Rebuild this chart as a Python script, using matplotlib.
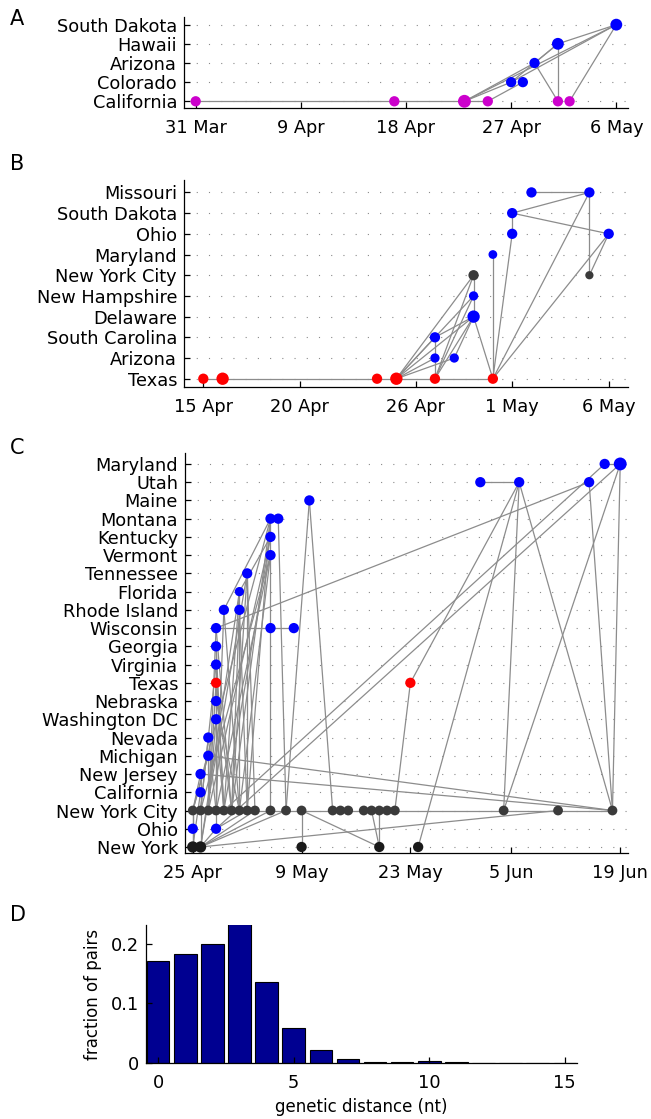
import matplotlib
matplotlib.use('Agg')
import matplotlib.pyplot as plt
import matplotlib.dates as mdates
from datetime import date

plt.rcParams['font.family'] = ['DejaVu Sans']
plt.rcParams['font.size'] = 12.8

W, H = 651, 1119
YEAR = 2009

# ---------------- panel A ----------------
a_locs = ["California", "Colorado", "Arizona", "Hawaii", "South Dakota"]
a_nodes = [("California", "03-31", 1), ("California", "04-17", 1), ("California", "04-23", 1.25),
           ("California", "04-25", 1), ("California", "05-01", 1), ("California", "05-02", 1),
           ("Colorado", "04-27", 1), ("Colorado", "04-28", 1), ("Arizona", "04-29", 1),
           ("Hawaii", "05-01", 1.15), ("South Dakota", "05-06", 1.15)]
a_edges = [("California", "03-31", "California", "04-17"),
           ("California", "04-17", "California", "04-23"),
           ("California", "04-23", "California", "04-25"),
           ("California", "04-23", "Colorado", "04-27"),
           ("California", "04-23", "Arizona", "04-29"),
           ("California", "04-23", "South Dakota", "05-06"),
           ("California", "04-25", "Colorado", "04-28"),
           ("Colorado", "04-27", "South Dakota", "05-06"),
           ("Colorado", "04-27", "Hawaii", "05-01"),
           ("Arizona", "04-29", "Hawaii", "05-01"),
           ("Arizona", "04-29", "California", "05-01"),
           ("Hawaii", "05-01", "California", "05-01"),
           ("Hawaii", "05-01", "South Dakota", "05-06"),
           ("California", "05-02", "South Dakota", "05-06")]
a_ticks = ["03-31", "04-09", "04-18", "04-27", "05-06"]
a_ticklabels = ["31 Mar", "9 Apr", "18 Apr", "27 Apr", "6 May"]

# ---------------- panel B ----------------
b_locs = ["Texas", "Arizona", "South Carolina", "Delaware", "New Hampshire",
          "New York City", "Maryland", "Ohio", "South Dakota", "Missouri"]
b_nodes = [("Texas", "04-15", 1), ("Texas", "04-16", 1.2), ("Texas", "04-24", 1),
           ("Texas", "04-25", 1.2), ("Texas", "04-27", 1), ("Texas", "04-30", 1),
           ("Arizona", "04-27", 0.9), ("Arizona", "04-28", 0.9), ("South Carolina", "04-27", 1),
           ("Delaware", "04-29", 1.2), ("New Hampshire", "04-29", 0.9),
           ("New York City", "04-29", 1), ("New York City", "05-05", 0.8),
           ("Maryland", "04-30", 0.85), ("Ohio", "05-01", 1), ("Ohio", "05-06", 1),
           ("South Dakota", "05-01", 1), ("Missouri", "05-02", 1), ("Missouri", "05-05", 1)]
b_edges = [("Texas", "04-15", "Texas", "04-16"), ("Texas", "04-16", "Texas", "04-24"),
           ("Texas", "04-24", "Texas", "04-25"), ("Texas", "04-25", "Texas", "04-27"),
           ("Texas", "04-27", "Texas", "04-30"),
           ("Texas", "04-25", "New York City", "04-29"), ("Texas", "04-25", "New Hampshire", "04-29"),
           ("Texas", "04-25", "Delaware", "04-29"), ("Texas", "04-25", "South Carolina", "04-27"),
           ("Texas", "04-25", "Arizona", "04-27"), ("Texas", "04-25", "Arizona", "04-28"),
           ("Texas", "04-27", "Arizona", "04-27"), ("Arizona", "04-27", "South Carolina", "04-27"),
           ("Texas", "04-27", "New York City", "04-29"), ("Texas", "04-27", "New Hampshire", "04-29"),
           ("Texas", "04-27", "Delaware", "04-29"), ("South Carolina", "04-27", "Delaware", "04-29"),
           ("New York City", "04-29", "New Hampshire", "04-29"),
           ("New Hampshire", "04-29", "Delaware", "04-29"), ("Arizona", "04-28", "Delaware", "04-29"),
           ("Delaware", "04-29", "Texas", "04-30"), ("Texas", "04-30", "Maryland", "04-30"),
           ("Texas", "04-30", "Ohio", "05-01"), ("Texas", "04-30", "Missouri", "05-05"),
           ("Texas", "04-30", "Ohio", "05-06"), ("Ohio", "05-01", "South Dakota", "05-01"),
           ("South Dakota", "05-01", "Missouri", "05-05"), ("South Dakota", "05-01", "Ohio", "05-06"),
           ("Missouri", "05-02", "Missouri", "05-05"), ("Missouri", "05-05", "New York City", "05-05"),
           ("New York City", "05-05", "Ohio", "05-06")]
b_ticks = ["04-15", "04-20", "04-26", "05-01", "05-06"]
b_ticklabels = ["15 Apr", "20 Apr", "26 Apr", "1 May", "6 May"]

# ---------------- panel C ----------------
c_locs = ["New York", "Ohio", "New York City", "California", "New Jersey", "Michigan",
          "Nevada", "Washington DC", "Nebraska", "Texas", "Virginia", "Georgia",
          "Wisconsin", "Rhode Island", "Florida", "Tennessee", "Vermont", "Kentucky",
          "Montana", "Maine", "Utah", "Maryland"]
nyc_dates = ["04-25", "04-26", "04-27", "04-28", "04-29", "04-30", "05-01", "05-02",
             "05-03", "05-05", "05-07", "05-09", "05-13", "05-14", "05-15", "05-17",
             "05-18", "05-19", "05-20", "05-21", "06-04", "06-11", "06-18"]
c_nodes = [("New York", "04-25", 1.1), ("New York", "04-26", 1.1), ("New York", "05-09", 1),
           ("New York", "05-19", 1), ("New York", "05-24", 1),
           ("Ohio", "04-25", 1), ("Ohio", "04-28", 1),
           ("California", "04-26", 1), ("New Jersey", "04-26", 1), ("Michigan", "04-27", 1),
           ("Nevada", "04-27", 1), ("Washington DC", "04-28", 1), ("Nebraska", "04-28", 1),
           ("Texas", "04-28", 1), ("Texas", "05-23", 1), ("Virginia", "04-28", 1),
           ("Georgia", "04-28", 1), ("Wisconsin", "04-28", 1), ("Wisconsin", "05-05", 1),
           ("Wisconsin", "05-08", 1), ("Rhode Island", "04-29", 1), ("Rhode Island", "05-01", 1),
           ("Florida", "05-01", 0.9), ("Tennessee", "05-02", 1), ("Vermont", "05-05", 1),
           ("Kentucky", "05-05", 1), ("Montana", "05-05", 1), ("Montana", "05-06", 1),
           ("Maine", "05-10", 1), ("Utah", "06-01", 1), ("Utah", "06-06", 1),
           ("Utah", "06-15", 1), ("Maryland", "06-17", 1), ("Maryland", "06-19", 1.25)]
c_nodes += [("New York City", dt, 0.95) for dt in nyc_dates]
c_edges = [("New York City", a, "New York City", b) for a, b in zip(nyc_dates[:-1], nyc_dates[1:])]
c_edges += [
    ("New York", "04-25", "Ohio", "04-25"), ("New York", "04-25", "New York", "04-26"),
    ("New York", "04-25", "California", "04-26"), ("New York", "04-26", "New Jersey", "04-26"),
    ("New York", "04-26", "Ohio", "04-28"), ("New York", "04-26", "New York City", "05-03"),
    ("New York", "04-26", "New York City", "05-05"), ("New York", "04-26", "New York City", "05-07"),
    ("New York", "04-26", "New York City", "06-11"), ("New York", "04-25", "New York City", "04-25"),
    ("New York", "05-09", "New York City", "05-09"), ("New York City", "05-09", "New York", "05-19"),
    ("New York City", "05-18", "New York", "05-19"), ("New York City", "05-19", "New York", "05-19"),
    ("Utah", "06-06", "New York", "05-24"), ("Texas", "05-23", "New York City", "05-21"),
    ("Texas", "05-23", "Utah", "06-06"), ("Utah", "06-01", "Utah", "06-06"),
    ("Utah", "06-06", "New York City", "06-04"), ("Utah", "06-06", "New York City", "06-18"),
    ("New York City", "06-04", "Maryland", "06-19"), ("Utah", "06-15", "New York City", "06-18"),
    ("Maryland", "06-19", "New York City", "06-18"), ("Maryland", "06-17", "Maryland", "06-19"),
    ("Maryland", "06-19", "Ohio", "04-28"), ("Maryland", "06-17", "New York City", "04-29"),
    ("Wisconsin", "04-28", "Utah", "06-15"),
    ("Maine", "05-10", "New York City", "05-07"), ("Maine", "05-10", "New York City", "05-13"),
    ("Montana", "05-05", "Montana", "05-06"), ("Montana", "05-06", "New York City", "05-07"),
    ("Montana", "05-05", "Kentucky", "05-05"), ("Kentucky", "05-05", "Vermont", "05-05"),
    ("Vermont", "05-05", "Wisconsin", "05-05"), ("Wisconsin", "05-05", "New York City", "05-05"),
    ("Wisconsin", "04-28", "Wisconsin", "05-05"), ("Wisconsin", "05-05", "Wisconsin", "05-08"),
    ("Montana", "05-05", "New York City", "04-25"), ("Montana", "05-05", "New York City", "04-30"),
    ("Montana", "05-05", "Rhode Island", "04-29"), ("Montana", "05-05", "New York City", "05-02"),
    ("Kentucky", "05-05", "New York City", "04-27"), ("Kentucky", "05-05", "New York City", "04-29"),
    ("Kentucky", "05-05", "Florida", "05-01"), ("Vermont", "05-05", "New York City", "04-26"),
    ("Vermont", "05-05", "New York City", "04-28"), ("Vermont", "05-05", "New York City", "05-01"),
    ("Tennessee", "05-02", "New York City", "04-30"), ("Tennessee", "05-02", "New York City", "05-02"),
    ("Tennessee", "05-02", "New York City", "05-03"), ("Tennessee", "05-02", "New York", "04-26"),
    ("Florida", "05-01", "New York City", "04-29"), ("Florida", "05-01", "New York City", "05-01"),
    ("Florida", "05-01", "New York", "04-26"), ("Rhode Island", "05-01", "New York City", "04-30"),
    ("Rhode Island", "05-01", "New York City", "05-02"), ("Rhode Island", "04-29", "New York City", "04-28"),
    ("Rhode Island", "04-29", "New York City", "05-01"), ("Wisconsin", "04-28", "New York City", "04-30"),
    ("Wisconsin", "04-28", "New York City", "04-27"), ("Georgia", "04-28", "New York City", "04-28"),
    ("Georgia", "04-28", "New York City", "04-29"), ("Virginia", "04-28", "New York City", "04-29"),
    ("Virginia", "04-28", "New York City", "04-26"), ("Texas", "04-28", "New York City", "04-27"),
    ("Texas", "04-28", "New York City", "04-30"), ("Nebraska", "04-28", "New York City", "04-28"),
    ("Nebraska", "04-28", "New York City", "05-01"), ("Washington DC", "04-28", "New York City", "04-27"),
    ("Washington DC", "04-28", "New York City", "04-29"), ("Nevada", "04-27", "New York City", "04-26"),
    ("Nevada", "04-27", "New York City", "04-28"), ("Michigan", "04-27", "New York City", "04-25"),
    ("Michigan", "04-27", "New York City", "04-27"), ("Michigan", "04-27", "New York City", "06-18"),
    ("New Jersey", "04-26", "New York City", "06-18"), ("New Jersey", "04-26", "New York City", "04-25"),
    ("California", "04-26", "New York City", "04-26"), ("Ohio", "04-28", "New York City", "04-28"),
    ("Ohio", "04-28", "New York City", "05-02"), ("Ohio", "04-25", "New York City", "04-25")]
c_ticks = ["04-25", "05-09", "05-23", "06-05", "06-19"]
c_ticklabels = ["25 Apr", "9 May", "23 May", "5 Jun", "19 Jun"]

# ---------------- panel D ----------------
distance = list(range(16))
fraction = [0.170, 0.182, 0.200, 0.232, 0.135, 0.059, 0.022, 0.007,
            0.002, 0.001, 0.003, 0.001, 0, 0, 0, 0]


def dnum(s):
    m, dd = s.split('-')
    return mdates.date2num(date(YEAR, int(m), int(dd)))


def px_axes(fig, l, t, r, b):
    return fig.add_axes([l / W, 1 - b / H, (r - l) / W, (b - t) / H])


def style(ax):
    for s in ['top', 'right']:
        ax.spines[s].set_visible(False)
    for s in ['left', 'bottom']:
        ax.spines[s].set_linewidth(0.9)
    ax.tick_params(direction='in', length=4, width=0.9, labelsize=12.8)
    ax.tick_params(axis='x', pad=8)
    ax.tick_params(axis='y', pad=5)


def draw_net(ax, locs, nodes, edges, colors, ticks, labels, xlim, ylim):
    row = {l: i + 1 for i, l in enumerate(locs)}
    for i in range(len(locs)):
        ax.axhline(i + 1, color='#8a8a8a', lw=0.8, ls=(0, (1, 10)), zorder=0)
    for l1, d1, l2, d2 in edges:
        ax.plot([dnum(d1), dnum(d2)], [row[l1], row[l2]], color='#8c8c8c', lw=0.9, zorder=1)
    xs = [dnum(n[1]) for n in nodes]
    ys = [row[n[0]] for n in nodes]
    cs = [colors.get(n[0], '#0000ff') for n in nodes]
    ss = [55 * n[2] ** 2 for n in nodes]
    ax.scatter(xs, ys, s=ss, c=cs, edgecolors='none', zorder=3, clip_on=False)
    ax.set_yticks(range(1, len(locs) + 1))
    ax.set_yticklabels(locs)
    ax.set_xticks([dnum(t) for t in ticks])
    ax.set_xticklabels(labels)
    ax.set_xlim(dnum(xlim[0]), dnum(xlim[1]))
    ax.set_ylim(*ylim)
    style(ax)


fig = plt.figure(figsize=(W / 100, H / 100), dpi=100)

axA = px_axes(fig, 184, 17, 628, 108)
draw_net(axA, a_locs, a_nodes, a_edges, {"California": '#cc00cc'},
         a_ticks, a_ticklabels, ("03-30", "05-07"), (0.65, 5.4))

axB = px_axes(fig, 184, 180, 628, 387)
draw_net(axB, b_locs, b_nodes, b_edges, {"Texas": '#ff0000', "New York City": '#3a3a3a'},
         b_ticks, b_ticklabels, ("04-14", "05-07"), (0.6, 10.6))

axC = px_axes(fig, 185, 453, 628, 853)
draw_net(axC, c_locs, c_nodes, c_edges,
         {"Texas": '#ff0000', "New York City": '#3a3a3a', "New York": '#1a1a1a'},
         c_ticks, c_ticklabels, ("04-24", "06-20"), (0.67, 22.6))

axD = px_axes(fig, 146, 925, 577, 1063)
axD.bar(distance, fraction, width=0.83, color='#000091', edgecolor='black', linewidth=0.8)
axD.set_xlim(-0.45, 15.45)
axD.set_ylim(0, 0.231)
axD.set_xticks([0, 5, 10, 15])
axD.set_yticks([0, 0.1, 0.2])
axD.set_yticklabels(['0', '0.1', '0.2'])
axD.set_xlabel('genetic distance (nt)', fontsize=12, labelpad=4)
axD.set_ylabel('fraction of pairs', fontsize=12, labelpad=6)
style(axD)

for letter, y in [('A', 19), ('B', 164), ('C', 448), ('D', 915)]:
    fig.text(10 / W, 1 - y / H, letter, fontsize=15, va='center', ha='left')

fig.savefig('out.png', dpi=100)
